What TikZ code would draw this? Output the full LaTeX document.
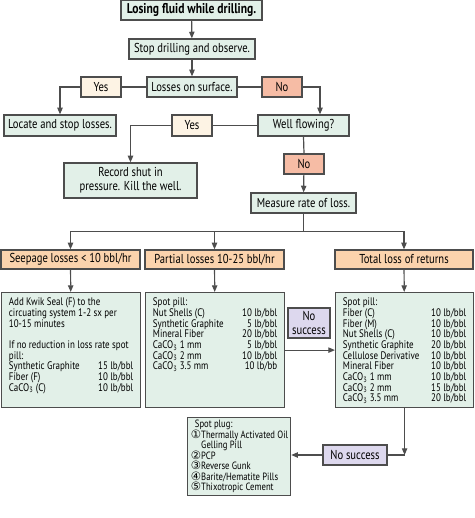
\documentclass[tikz,border=0pt]{standalone}
\usepackage{fontspec}
\setmainfont[FakeStretch=0.82]{PT Sans}
\newfontfamily\circfont{DejaVu Sans}
\usetikzlibrary{arrows.meta,calc}

\definecolor{boxgreen}{HTML}{E2F0E8}
\definecolor{boxorange}{HTML}{FBD3AD}
\definecolor{boxcream}{HTML}{FDF3E4}
\definecolor{boxsalmon}{HTML}{F6BCA5}
\definecolor{boxlilac}{HTML}{DDD8EE}
\definecolor{boxline}{HTML}{4D4D4D}

\newcommand{\dose}[2]{\mbox{}#1\hfill#2}
\newcommand{\cnum}[1]{\smash{\circfont\fontsize{8.6}{8}\selectfont#1}}

\tikzset{
  stepbox/.style={draw=boxline,line width=0.9pt,fill=boxgreen,inner sep=0pt,
    minimum height=15pt,align=center,font=\fontsize{9.7}{10.2}\selectfont},
  yesbox/.style={stepbox,fill=boxcream,minimum width=30pt},
  nobox/.style={stepbox,fill=boxsalmon,minimum width=30pt},
  headbox/.style={stepbox,fill=boxorange,minimum height=14.25pt},
  failbox/.style={stepbox,fill=boxlilac},
  listbox/.style={draw=boxline,line width=0.9pt,fill=boxgreen,anchor=north west,
    inner xsep=5.5pt,inner ysep=4pt,font=\fontsize{8.2}{8}\selectfont},
  arr/.style={draw=boxline,line width=0.9pt,-{Triangle[length=5pt,width=4pt]}},
  link/.style={draw=boxline,line width=0.9pt}
}

\begin{document}
\begin{tikzpicture}[x=0.75pt,y=-0.75pt]
  \useasboundingbox (0,0) rectangle (475,518);

  \newcommand{\SeepX}{1}
  \newcommand{\PartX}{145}
  \newcommand{\TotX}{335}
  \newcommand{\ListY}{292}

  \node[stepbox,minimum width=105.75pt,font=\fontsize{10.6}{10}\selectfont\bfseries] (lose) at (191.5,10) {Losing fluid while drilling.};
  \node[stepbox,minimum width=94.5pt] (stop) at (192,49) {Stop drilling and observe.};
  \node[stepbox,minimum width=67.5pt] (surf) at (192,87) {Losses on surface.};
  \node[yesbox] (yes1) at (101,87) {Yes};
  \node[nobox] (no1) at (282,87) {No};
  \node[stepbox,minimum width=84pt,minimum height=15.75pt] (locate) at (60,125.5) {Locate and stop losses.};
  \node[yesbox,minimum height=15.75pt] (yes2) at (192,125.5) {Yes};
  \node[stepbox,minimum width=68.25pt,minimum height=15.75pt] (flow) at (303.5,125.5) {Well flowing?};
  \node[stepbox,minimum width=99.75pt,minimum height=26.25pt] (record) at (130.5,180.5) {Record shut in\\pressure. Kill the well.};
  \node[nobox] (no2) at (304,164) {No};
  \node[stepbox,minimum width=78.75pt] (rate) at (303.5,203) {Measure rate of loss.};

  \node[headbox,minimum width=104.25pt] (seep) at (70.5,259.5) {Seepage losses < 10 bbl/hr};
  \node[headbox,minimum width=104.25pt] (part) at (214.5,259.5) {Partial losses 10-25 bbl/hr};
  \node[headbox,minimum width=103.5pt] (total) at (404,259.5) {Total loss of returns};

  \node[listbox] (seepbox) at (\SeepX,\ListY) {\parbox[t][78.25pt][t]{93.25pt}{%
    Add Kwik Seal (F) to the\\
    circuating system 1-2 sx per\\
    10-15 minutes\\[8pt]
    If no reduction in loss rate spot\\
    pill:\\
    \dose{Synthetic Graphite}{15 lb/bbl}\\
    \dose{Fiber (F)}{10 lb/bbl}\\
    \dose{CaCO\textsubscript{3} (C)}{10 lb/bbl}}};
  \node[listbox] (partbox) at (\PartX,\ListY) {\parbox[t][78.25pt][t]{93.25pt}{%
    Spot pill:\\
    \dose{Nut Shells (C)}{10 lb/bbl}\\
    \dose{Synthetic Graphite}{5 lb/bbl}\\
    \dose{Mineral Fiber}{20 lb/bbl}\\
    \dose{CaCO\textsubscript{3} 1 mm}{5 lb/bbl}\\
    \dose{CaCO\textsubscript{3} 2 mm}{10 lb/bbl}\\
    \dose{CaCO\textsubscript{3} 3.5 mm}{10 lb/bb}}};
  \node[listbox] (totbox) at (\TotX,\ListY) {\parbox[t][78.25pt][t]{92.5pt}{%
    Spot pill:\\
    \dose{Fiber (C)}{10 lb/bbl}\\
    \dose{Fiber (M)}{10 lb/bbl}\\
    \dose{Nut Shells (C)}{10 lb/bbl}\\
    \dose{Synthetic Graphite}{20 lb/bbl}\\
    \dose{Cellulose Derivative}{10 lb/bbl}\\
    \dose{Mineral Fiber}{10 lb/bbl}\\
    \dose{CaCO\textsubscript{3} 1 mm}{10 lb/bbl}\\
    \dose{CaCO\textsubscript{3} 2 mm}{15 lb/bbl}\\
    \dose{CaCO\textsubscript{3} 3.5 mm}{20 lb/bbl}}};

  \node[failbox,minimum width=31.5pt,minimum height=22.5pt] (fail1) at (309,323) {No\\success};
  \node[failbox,minimum width=48pt] (fail2) at (355,455) {No success};
  \node[listbox,inner xsep=2.5pt,inner ysep=2pt,font=\fontsize{7.9}{7.9}\selectfont] (plug) at (187,417) {\parbox[t][54.5pt][t]{72.25pt}{%
    \hspace*{3pt}Spot plug:\\
    \mbox{\cnum{①}Thermally Activated Oil}\\
    \phantom{\cnum{①}}Gelling Pill\\
    \cnum{②}PCP\\
    \cnum{③}Reverse Gunk\\
    \cnum{④}Barite/Hematite Pills\\
    \cnum{⑤}Thixotropic Cement}};

  \draw[arr] (lose) -- (stop);
  \draw[arr] (stop) -- (surf);
  \draw[link] (surf.west) -- (yes1.east);
  \draw[arr] (yes1.west) -| (locate.north);
  \draw[link] (surf.east) -- (no1.west);
  \draw[arr] (no1.east) -| ($(flow.north)+(16.5,0)$);
  \draw[link] (flow.west) -- (yes2.east);
  \draw[arr] (yes2.west) -| (record.north);
  \draw[link] (flow.south) -- (no2.north);
  \draw[arr] (no2) -- (rate);
  \draw[link] (rate.south) -- ++(0,18) coordinate (split);
  \draw[arr] (split) -| (seep.north);
  \draw[arr] (split) -| (part.north);
  \draw[arr] (split) -| (total.north);
  \draw[arr] (seep) -- (seepbox);
  \draw[arr] (part) -- (partbox);
  \draw[arr] (total) -- (totbox);
  \draw[arr] (partbox.east) -- (totbox.west);
  \draw[arr] (totbox.south) -- (totbox.south |- fail2.east) coordinate (turn);
  \draw[link] (turn) -- (fail2.east);
  \draw[arr] (fail2.west) -- (fail2.west -| plug.east);
\end{tikzpicture}
\end{document}
